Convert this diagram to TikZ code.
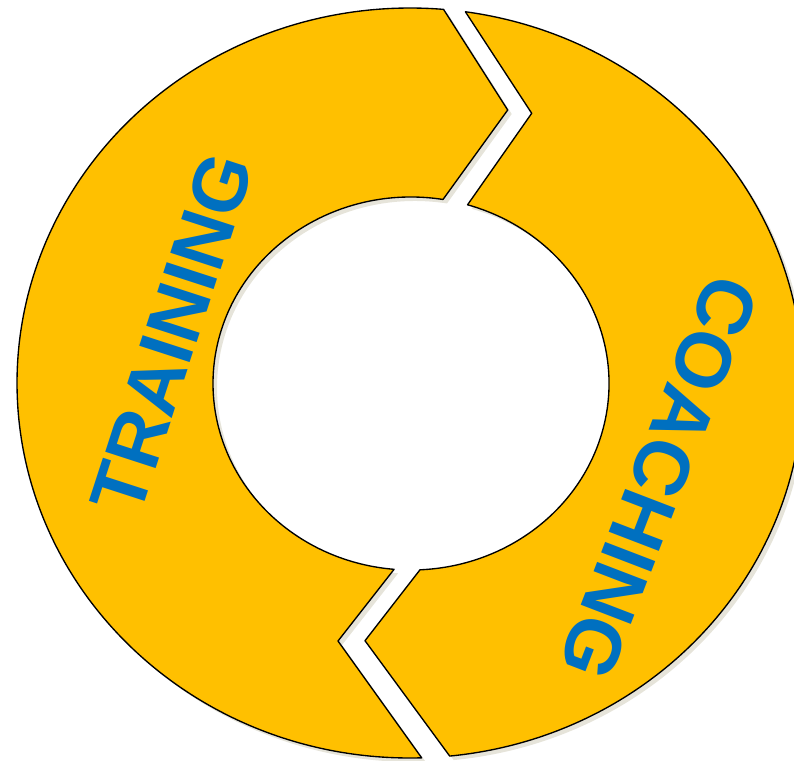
\documentclass[tikz,border=0pt]{standalone}
\usepackage{fontspec}
\setmainfont{Liberation Sans}
\definecolor{ringfill}{HTML}{FFC000}
\definecolor{txtblue}{HTML}{0070C0}
\definecolor{shade}{HTML}{E6E4DA}
\begin{document}
\begin{tikzpicture}[x=1pt,y=-1pt,
  piece/.style={fill=ringfill,draw=black,line width=1.35pt,line join=round},
  shadowpiece/.style={fill=shade},
  lbl/.style={text=txtblue,inner sep=0pt}]
\useasboundingbox (0,0) rectangle (794,760);
% ellipse points
\coordinate (LoT) at ([shift={(410,383)}]274.9:393 and 375);
\coordinate (LoB) at ([shift={(410,383)}]88.3:393 and 375);
\coordinate (LiT) at ([shift={(411,383.5)}]279.3:198 and 186.5);
\coordinate (LiB) at ([shift={(411,383.5)}]94.9:198 and 186.5);
\coordinate (LtipT) at (507.7,110);
\coordinate (LtipB) at (338,641);
\coordinate (RoT) at ([shift={(410,383)}]-81.9:393 and 375);
\coordinate (RoB) at ([shift={(410,383)}]84.2:393 and 375);
\coordinate (RiT) at ([shift={(411,383.5)}]-73.4:198 and 186.5);
\coordinate (RiB) at ([shift={(411,383.5)}]87.4:198 and 186.5);
\coordinate (RtipT) at (531.7,113.3);
\coordinate (RtipB) at (365,640.7);
\def\leftpath{(LoT) -- (LtipT) -- (LiT) arc[start angle=279.3, end angle=94.9, x radius=198, y radius=186.5] -- (LtipB) -- (LoB) arc[start angle=88.3, end angle=274.9, x radius=393, y radius=375] -- cycle}
\def\rightpath{(RoT) -- (RtipT) -- (RiT) arc[start angle=-73.4, end angle=87.4, x radius=198, y radius=186.5] -- (RtipB) -- (RoB) arc[start angle=84.2, end angle=-81.9, x radius=393, y radius=375] -- cycle}
\begin{scope}[transform canvas={shift={(4pt,-4pt)}}]
  \fill[shadowpiece] \leftpath;
  \fill[shadowpiece] \rightpath;
\end{scope}
\draw[piece] \leftpath;
\draw[piece] \rightpath;
\node[lbl, font=\bfseries\fontsize{77}{77}\selectfont, rotate=72] (training) at (172,333) {TRAINING};
\node[lbl, font=\bfseries\fontsize{78}{78}\selectfont, rotate=-111] (coaching) at (659,478) {COACHING};
\end{tikzpicture}
\end{document}
